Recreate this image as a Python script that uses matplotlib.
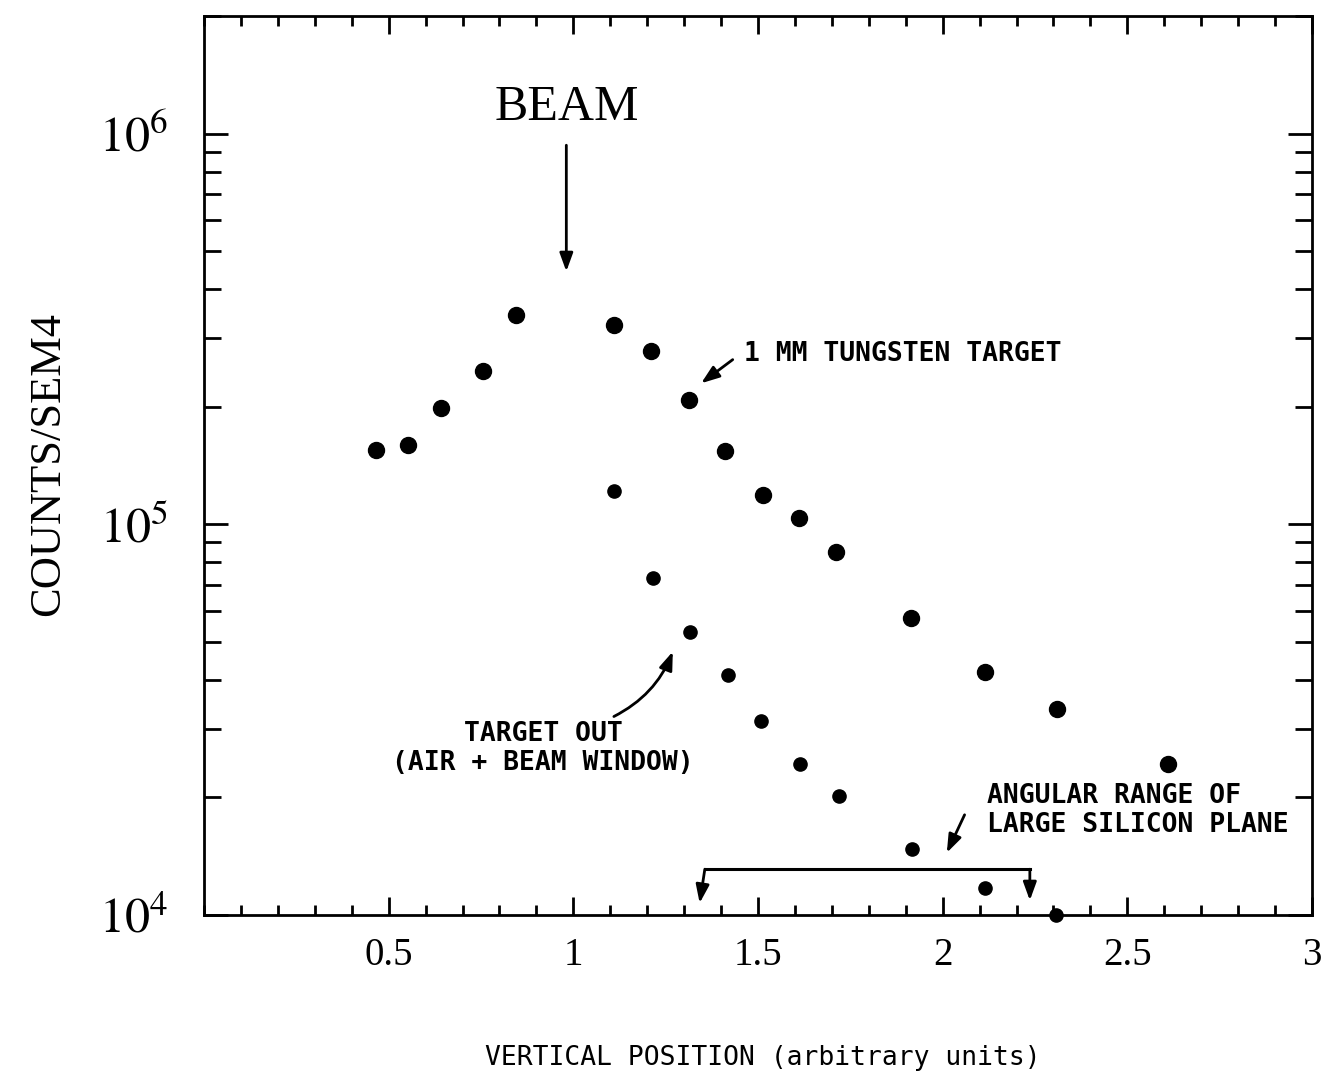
import numpy as np
import matplotlib.pyplot as plt
from matplotlib.ticker import MultipleLocator, LogLocator, NullFormatter

plt.rcParams['font.family'] = 'Liberation Serif'
plt.rcParams['mathtext.fontset'] = 'stix'
mono = 'DejaVu Sans Mono'

# 1 mm tungsten target
x_w = [0.465, 0.552, 0.641, 0.755, 0.845, 1.111, 1.209, 1.313, 1.410, 1.514,
       1.611, 1.712, 1.913, 2.114, 2.310, 2.609]
y_w = [1.55e5, 1.60e5, 1.99e5, 2.47e5, 3.43e5, 3.24e5, 2.78e5, 2.08e5, 1.54e5, 1.19e5,
       1.04e5, 8.5e4, 5.75e4, 4.19e4, 3.36e4, 2.44e4]

# target out (air + beam window)
x_out = [1.111, 1.215, 1.315, 1.418, 1.508, 1.614, 1.720, 1.916, 2.114, 2.307]
y_out = [1.22e5, 7.28e4, 5.3e4, 4.12e4, 3.13e4, 2.44e4, 2.02e4, 1.48e4, 1.17e4, 1.0e4]

x_ticks = [0.5, 1, 1.5, 2, 2.5, 3]
x_ticklabels = ['0.5', '1', '1.5', '2', '2.5', '3']
y_ticks = [1e4, 1e5, 1e6]
y_ticklabels = ['$10^4$', '$10^5$', '$10^6$']

beam_x = 0.981
si_range = [1.356, 2.236]

fig = plt.figure(figsize=(13.23, 10.77), dpi=100)
ax = fig.add_axes([0.1542, 0.1504, 0.8375, 0.8346])

ax.plot(x_w, y_w, 'o', color='k', ms=11.5, clip_on=False)
ax.plot(x_out, y_out, 'o', color='k', ms=9.5, clip_on=False)

ax.set_yscale('log')
ax.set_xlim(0, 3)
ax.set_ylim(1e4, 2e6)

ax.set_xticks(x_ticks)
ax.set_xticklabels(x_ticklabels)
ax.xaxis.set_minor_locator(MultipleLocator(0.1))
ax.set_yticks(y_ticks)
ax.set_yticklabels(y_ticklabels)
ax.yaxis.set_minor_locator(LogLocator(base=10, subs=np.arange(2, 10)))
ax.yaxis.set_minor_formatter(NullFormatter())

ax.tick_params(which='both', direction='in', top=True, right=True, width=2)
ax.tick_params(axis='x', which='major', length=13, labelsize=28, pad=16)
ax.tick_params(axis='x', which='minor', length=7)
ax.tick_params(axis='y', which='major', length=17, labelsize=36, pad=26)
ax.tick_params(axis='y', which='minor', length=12)
for s in ax.spines.values():
    s.set_linewidth(2)

arr = dict(arrowstyle='-|>,head_length=0.55,head_width=0.2', color='k', lw=2,
           mutation_scale=20)
txt = dict(fontfamily=mono, fontsize=19, fontweight='bold', linespacing=1.15)

# beam position
ax.text(beam_x, 10**6.066, 'BEAM', ha='center', va='center', fontsize=36)
ax.annotate('', xy=(beam_x, 4.37e5), xytext=(beam_x, 9.5e5), arrowprops=arr)

ax.text(1.462, 10**5.436, '1 MM TUNGSTEN TARGET', ha='left', va='center', **txt)
ax.annotate('', xy=(1.340, 10**5.357), xytext=(1.4375, 10**5.426), arrowprops=arr)

ax.annotate('', xy=(1.272, 10**4.681), xytext=(1.103, 10**4.505),
            arrowprops=dict(arr, connectionstyle='arc3,rad=0.2'))
ax.text(0.918, 10**4.426, 'TARGET OUT\n(AIR + BEAM WINDOW)', ha='center', va='center',
        multialignment='center', **txt)

ax.annotate('', xy=(2.008, 10**4.153), xytext=(2.0625, 10**4.263), arrowprops=arr)
ax.text(2.120, 10**4.268, 'ANGULAR RANGE OF\nLARGE SILICON PLANE', ha='left', va='center', **txt)

# bracket for the silicon plane
ax.plot(si_range, [1.31e4, 1.31e4], color='k', lw=2.2)
ax.annotate('', xy=(si_range[0] - 0.014, 1.073e4), xytext=(si_range[0], 1.31e4),
            arrowprops=dict(arr, shrinkA=0, shrinkB=0))
ax.annotate('', xy=(si_range[1], 1.09e4), xytext=(si_range[1], 1.31e4),
            arrowprops=dict(arr, shrinkA=0, shrinkB=0))

fig.text(0.0363, 0.569, 'COUNTS/SEM4', rotation=90, ha='center', va='center', fontsize=32)
fig.text(0.5767, 0.0176, 'VERTICAL POSITION (arbitrary units)', ha='center', va='center',
         **dict(txt, fontweight='normal'))

fig.savefig('out.png', dpi=100)
